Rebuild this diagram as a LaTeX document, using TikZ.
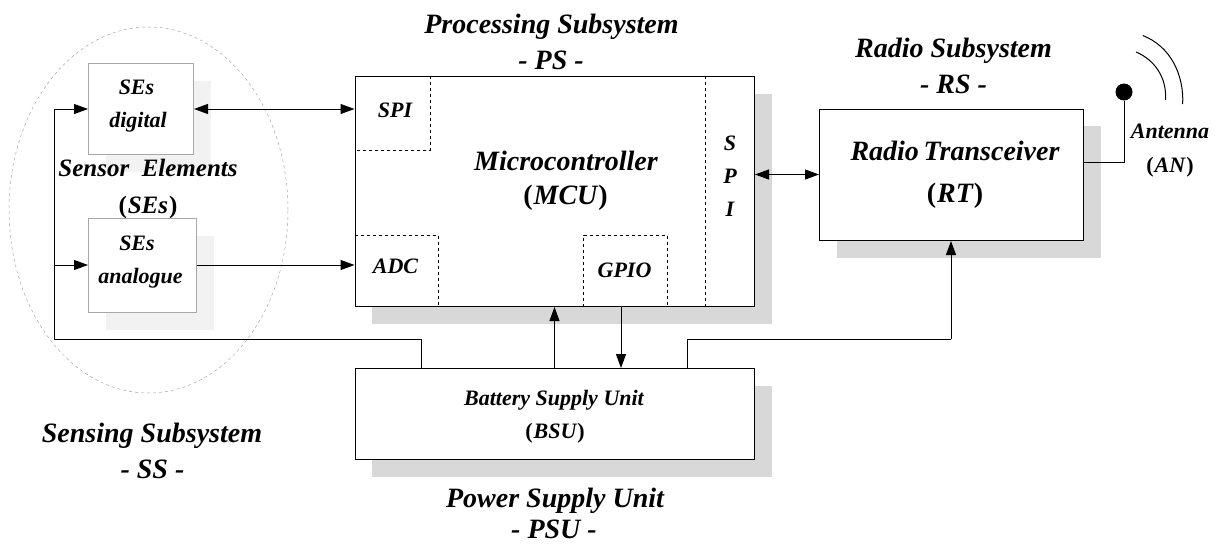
\documentclass[tikz,border=0pt]{standalone}
\usepackage{fontspec}
\setmainfont{Liberation Serif}
\usetikzlibrary{arrows.meta,calc,shadows,shapes.geometric}
\definecolor{shadegray}{HTML}{D8D8D8}
\definecolor{paleshade}{HTML}{F2F2F2}
\definecolor{paleline}{HTML}{A8A8A8}
\newcommand{\abbr}[1]{\textup{(}\kern1pt#1\kern1pt\textup{)}}

\begin{document}
\begin{tikzpicture}[
  x=1pt, y=-1pt,
  box/.style={draw, fill=white, line width=1pt, inner sep=0pt, anchor=north west,
              drop shadow={shadow xshift=17pt, shadow yshift=-17pt, fill=shadegray, opacity=1}},
  sebox/.style={draw=paleline, fill=white, line width=1pt, inner sep=0pt, anchor=north west,
              drop shadow={shadow xshift=17pt, shadow yshift=-17pt, fill=paleshade, opacity=1}},
  port/.style={draw, dashed, line width=0.8pt},
  lbl/.style={font=\bfseries\itshape\fontsize{25}{25}\selectfont, inner sep=0pt, anchor=base},
  title/.style={font=\bfseries\itshape\fontsize{28}{28}\selectfont, inner sep=0pt, anchor=base},
  small/.style={font=\bfseries\itshape\fontsize{22}{22}\selectfont, inner sep=0pt, anchor=base},
  arr/.style={-{Triangle[length=14pt,width=10pt]}, line width=1pt},
  dbl/.style={{Triangle[length=14pt,width=10pt]}-{Triangle[length=14pt,width=10pt]}, line width=1pt},
  wire/.style={line width=1pt}
]
\useasboundingbox (0,0) rectangle (1219,544);

% sensing part
\node[draw=paleline, dashed, line width=0.5pt, minimum width=279pt, minimum height=366pt,
      inner sep=0pt, ellipse] (sens) at (148.5,210) {};
\node[sebox, minimum width=105pt, minimum height=91pt] (sesdig) at (88,63) {};
\node[sebox, minimum width=108pt, minimum height=94pt] (sesana) at (88,218) {};

% main blocks
\node[box, minimum width=399.5pt, minimum height=230pt] (mcu) at (354.5,76) {};
\node[box, minimum width=264pt, minimum height=131.5pt] (rt) at (819,108.5) {};
\node[box, minimum width=399.5pt, minimum height=91pt] (bsu) at (354.5,368) {};

% ports in the microcontroller
\draw[port] ($(mcu.north west)+(75.5,0)$) coordinate (spia) |- ($(mcu.north west)+(0,74)$) coordinate (spib);
\draw[port] ($(mcu.south west)+(0,-72)$) coordinate (adca) -| ($(mcu.south west)+(83.5,0)$) coordinate (adcb);
\draw[port] ($(mcu.south west)+(229,0)$) coordinate (gpioa) |- ($(mcu.south west)+(312.5,-72)$) coordinate (gpiob) -- (gpiob |- mcu.south);
\draw[port] ($(mcu.north east)+(-50,0)$) coordinate (spic) -- (spic |- mcu.south);

% antenna
\node[circle, fill=black, inner sep=0pt, minimum size=17pt] (ant) at (1124,92) {};
\draw[line width=1pt] (1142.7,35.5) .. controls (1170,46) and (1184,74) .. (1182.7,104);
\draw[line width=1pt] (1136,52) .. controls (1155,60) and (1167,78) .. (1165.5,100);

% connectors
\coordinate (fbleft) at (54.5,339);
\coordinate (fbright) at (951,339);
\draw[dbl] (sesdig.east |- 0,109) -- (mcu.west |- 0,109);
\draw[arr] (sesana.east |- 0,265) -- (mcu.west |- 0,265);
\draw[dbl] (mcu.east |- 0,174.5) -- (rt.west |- 0,174.5);
\draw[wire] (bsu.north -| 421,0) |- (fbleft) -- (fbleft |- 0,265);
\draw[arr] (fbleft |- 0,265) -- (sesana.west |- 0,265);
\draw[arr] (fbleft |- 0,265) |- (sesdig.west |- 0,109);
\draw[arr] (bsu.north -| 554.5,0) -- (mcu.south -| 554.5,0);
\draw[arr] (mcu.south -| 621,0) -- (bsu.north -| 621,0);
\draw[wire] (bsu.north -| 687,0) |- (fbright);
\draw[arr] (fbright) -- (rt.south -| fbright);
\draw[wire] (rt.east |- 0,162) -| (ant.south);

% labels
\node[title] (pstitle) at (551.5,33) {Processing Subsystem};
\node[title] (pstag) at (551,69) {- PS -};
\node[title] (rstitle) at (953.5,57) {Radio Subsystem};
\node[title] (rstag) at (953.5,93) {- RS -};
\node[title] (sstitle) at (152,442) {Sensing Subsystem};
\node[title] (sstag) at (152.5,478) {- SS -};
\node[title] (psutitle) at (555,507) {Power Supply Unit};
\node[title] (psutag) at (554,538) {- PSU -};
\node[lbl] (selabel) at (148,176) {Sensor\ \ Elements};
\node[lbl] (setag) at (148,213) {\abbr{SEs}};
\node[small] at (136.5,94) (sesdiga) {SEs};
\node[small] at (138,127) (sesdigb) {digital};
\node[small] at (137,250) (sesanaa) {SEs};
\node[small] at (140.5,283) (sesanab) {analogue};
\node[small] (spilabel) at (395,117) {SPI};
\node[small] (adclabel) at (395.5,273) {ADC};
\node[small] (gpiolabel) at (624.5,277) {GPIO};
\node[small] (spis) at (730,150) {S};
\node[small] (spip) at (730,183) {P};
\node[small] (spii) at (730,216) {I};
\node[title] (mcuname) at (566,170) {Microcontroller};
\node[title] (mcutag) at (565.5,204) {\abbr{MCU}};
\node[title] (rtname) at (955,160) {Radio\,Transceiver};
\node[title] (rttag) at (955,202) {\abbr{RT}};
\node[small] (antname) at (1170,138) {Antenna};
\node[small] (anttag) at (1170,172) {\abbr{AN}};
\node[small] (bsuname) at (554,405) {Battery Supply Unit};
\node[small] (bsutag) at (555,438) {\abbr{BSU}};
\end{tikzpicture}
\end{document}
